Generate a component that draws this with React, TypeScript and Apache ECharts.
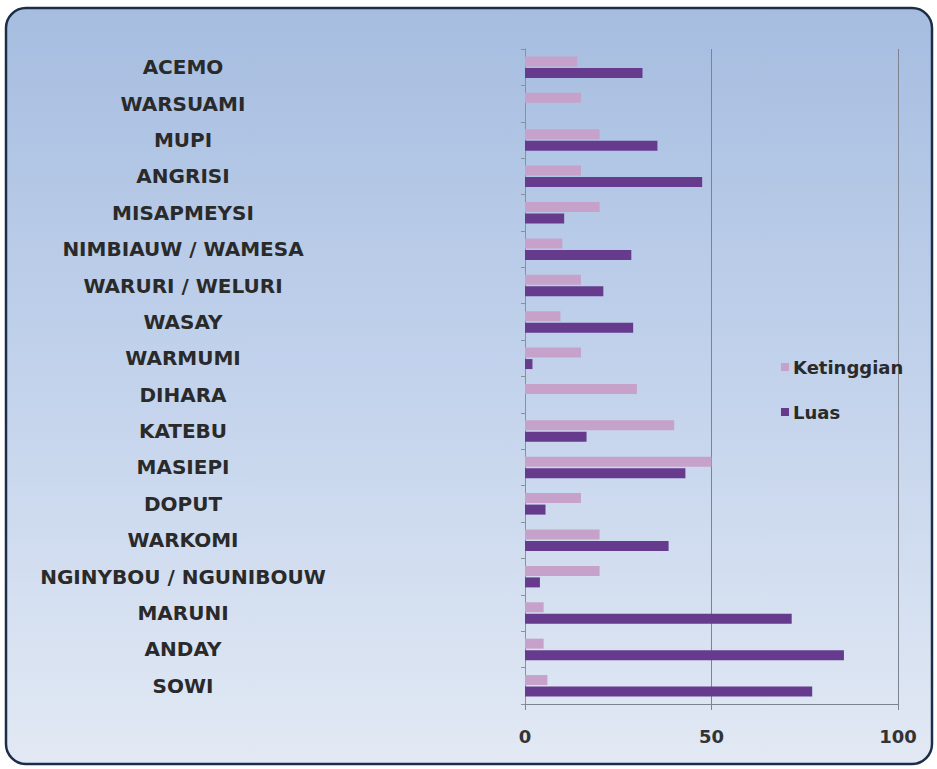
import React, { useEffect, useRef } from "react";
import * as echarts from "echarts";

const categories = [
  "ACEMO",
  "WARSUAMI",
  "MUPI",
  "ANGRISI",
  "MISAPMEYSI",
  "NIMBIAUW / WAMESA",
  "WARURI / WELURI",
  "WASAY",
  "WARMUMI",
  "DIHARA",
  "KATEBU",
  "MASIEPI",
  "DOPUT",
  "WARKOMI",
  "NGINYBOU / NGUNIBOUW",
  "MARUNI",
  "ANDAY",
  "SOWI",
];

const ketinggian = [14, 15, 20, 15, 20, 10, 15, 9.5, 15, 30, 40, 50, 15, 20, 20, 5, 5, 6];
const luas = [31.5, 0, 35.5, 47.5, 10.5, 28.5, 21, 29, 2, 0, 16.5, 43, 5.5, 38.5, 4, 71.5, 85.5, 77];

const xTicks = { min: 0, max: 100, interval: 50 };

export default function App() {
  const ref = useRef<HTMLDivElement>(null);
  useEffect(() => {
    if (!ref.current) return;
    const chart = echarts.init(ref.current, null, { renderer: "svg" });
    const font = "'DejaVu Sans', 'Open Sans', sans-serif";
    chart.setOption({
      animation: false,
      textStyle: { fontFamily: font },
      graphic: [
        {
          type: "rect",
          z: -10,
          silent: true,
          shape: { x: 6, y: 8, width: 926, height: 756, r: 20 },
          style: {
            fill: new echarts.graphic.LinearGradient(0, 0, 0, 1, [
              { offset: 0, color: "#a6bde0" },
              { offset: 0.5, color: "#c3d3ec" },
              { offset: 1, color: "#e2e9f4" },
            ]),
            stroke: "#1d2d47",
            lineWidth: 2.5,
          },
        },
      ],
      legend: {
        orient: "vertical",
        left: 776,
        top: 353,
        itemWidth: 8,
        itemHeight: 8,
        itemGap: 27,
        icon: "rect",
        textStyle: {
          fontSize: 18,
          fontWeight: "bold",
          color: "#2a2a2a",
          fontFamily: font,
          padding: [0, 0, 0, -1],
        },
        data: ["Ketinggian", "Luas"],
      },
      grid: { left: 525, right: 39, top: 49, bottom: 65, containLabel: false },
      xAxis: {
        type: "value",
        min: xTicks.min,
        max: xTicks.max,
        interval: xTicks.interval,
        axisLine: { show: true, lineStyle: { color: "#7d848f", width: 1 } },
        axisTick: { show: true, length: 6, lineStyle: { color: "#7d848f" } },
        splitLine: { show: true, lineStyle: { color: "#7d848f", width: 1 } },
        axisLabel: {
          fontSize: 18,
          fontWeight: "bold",
          color: "#333",
          margin: 23,
          fontFamily: font,
        },
      },
      yAxis: {
        type: "category",
        inverse: true,
        data: categories,
        axisLine: { show: true, lineStyle: { color: "#8a919c", width: 1 } },
        axisTick: { show: true, length: 4, lineStyle: { color: "#8a919c" } },
        axisLabel: {
          fontSize: 20,
          fontWeight: "bold",
          color: "#2a2a2a",
          margin: 342,
          align: "center",
          fontFamily: font,
        },
      },
      series: [
        {
          name: "Ketinggian",
          type: "bar",
          data: ketinggian,
          barWidth: 10,
          barGap: "15%",
          itemStyle: { color: "#c6a2ca" },
        },
        {
          name: "Luas",
          type: "bar",
          data: luas,
          barWidth: 10,
          itemStyle: { color: "#663b8e" },
        },
      ],
    });
    return () => chart.dispose();
  }, []);
  return (
    <div
      ref={ref}
      style={{ position: "fixed", left: 0, top: 0, width: 937, height: 769, background: "#fff" }}
    />
  );
}
